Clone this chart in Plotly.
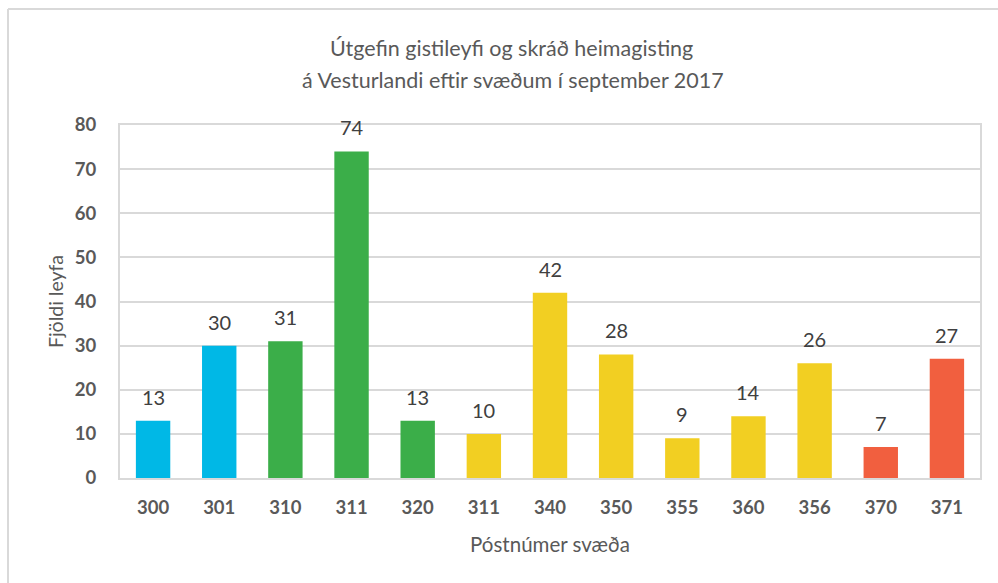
import plotly.graph_objects as go

# Post codes (note: 311 appears twice in the source table)
postnumer = ["300", "301", "310", "311", "320", "311", "340", "350", "355", "360", "356", "370", "371"]
fjoldi = [13, 30, 31, 74, 13, 10, 42, 28, 9, 14, 26, 7, 27]
litir = ["#00B8E6", "#00B8E6", "#3BAE49", "#3BAE49", "#3BAE49",
         "#F2CF22", "#F2CF22", "#F2CF22", "#F2CF22", "#F2CF22", "#F2CF22",
         "#F15F3F", "#F15F3F"]
y_ticks = [0, 10, 20, 30, 40, 50, 60, 70, 80]

W, H = 998, 583
ML, MR, MT, MB = 120, 18, 125, 105
PW, PH = W - ML - MR, H - MT - MB

def px_x(p):
    return (p - ML) / PW

def px_y(p):
    return (H - MB - p) / PH

FONT = "Lato"
GREY = "#595959"
GRID = "#D9D9D9"

pos = list(range(len(postnumer)))

fig = go.Figure(go.Bar(
    x=pos, y=fjoldi, marker=dict(color=litir, line=dict(width=0)),
    width=0.52, hoverinfo="skip"))

for i, v in zip(pos, fjoldi):
    fig.add_annotation(x=i, y=v, text=str(v), showarrow=False,
                       yanchor="bottom", yshift=10,
                       font=dict(family=FONT, size=20, color="#404040"))

fig.add_annotation(x=px_x(511), y=px_y(48), xref="paper", yref="paper",
                   text="Útgefin gistileyfi og skráð heimagisting",
                   showarrow=False, xanchor="center", yanchor="middle",
                   font=dict(family=FONT, size=21.5, color=GREY))
fig.add_annotation(x=px_x(513), y=px_y(80), xref="paper", yref="paper",
                   text="á Vesturlandi eftir svæðum í september 2017",
                   showarrow=False, xanchor="center", yanchor="middle",
                   font=dict(family=FONT, size=21.5, color=GREY))

# Outer chart frame
fig.add_shape(type="line", xref="paper", yref="paper",
              x0=px_x(8), x1=px_x(1000), y0=px_y(9), y1=px_y(9),
              line=dict(color=GRID, width=2))
fig.add_shape(type="line", xref="paper", yref="paper",
              x0=px_x(8), x1=px_x(8), y0=px_y(9), y1=px_y(590),
              line=dict(color=GRID, width=2))

fig.update_layout(
    width=W, height=H,
    margin=dict(l=ML, r=MR, t=MT, b=MB),
    paper_bgcolor="white", plot_bgcolor="white",
    showlegend=False,
    bargap=0.48,
    font=dict(family=FONT, color=GREY),
)
fig.update_xaxes(
    range=[-0.5, len(postnumer) - 0.5],
    tickmode="array", tickvals=pos, ticktext=postnumer,
    tickfont=dict(family=FONT, size=18.5, color=GREY, weight="bold"),
    ticklabelstandoff=12,
    showgrid=False, zeroline=False,
    showline=True, mirror=True, linecolor=GRID, linewidth=2,
    title=dict(text="Póstnúmer svæða", standoff=20,
               font=dict(family=FONT, size=20.5, color=GREY)),
)
fig.update_yaxes(
    range=[0, 80], tickmode="array", tickvals=y_ticks,
    tickfont=dict(family=FONT, size=18.5, color=GREY, weight="bold"),
    ticklabelstandoff=18,
    showgrid=True, gridcolor=GRID, gridwidth=2, zeroline=False,
    showline=True, mirror=True, linecolor=GRID, linewidth=2,
    title=dict(text="Fjöldi leyfa", standoff=6,
               font=dict(family=FONT, size=19.5, color=GREY)),
)

fig.write_html("out.html")
